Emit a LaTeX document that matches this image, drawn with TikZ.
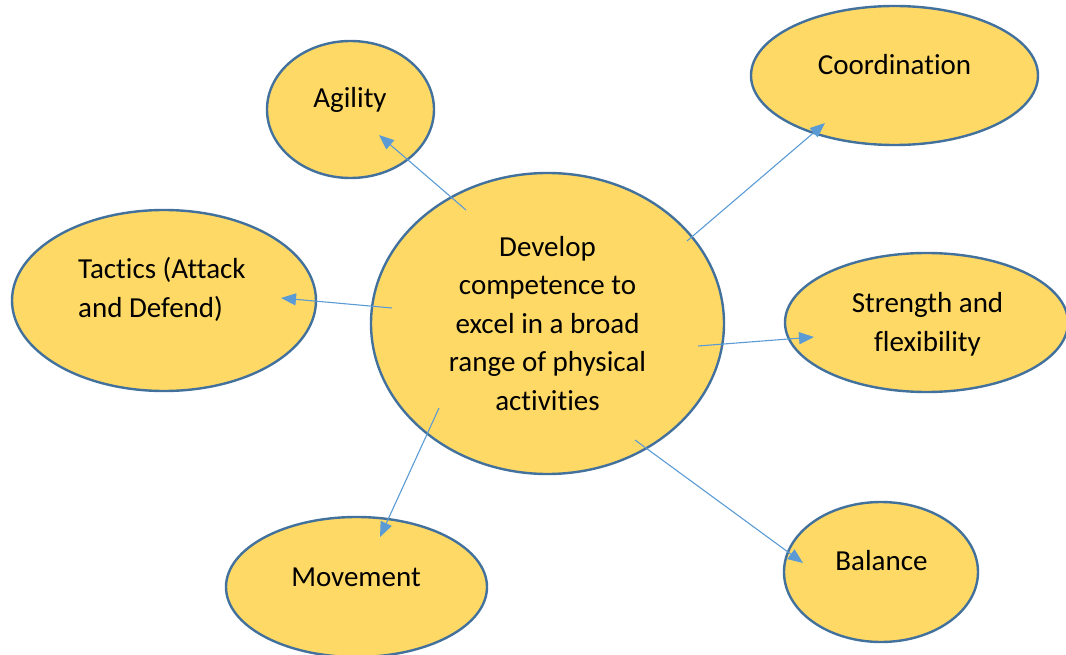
\documentclass[tikz,border=0pt]{standalone}
\usepackage{fontspec}
\setmainfont{Carlito}[Ligatures=NoCommon]
\usetikzlibrary{shapes.geometric,arrows.meta}
\definecolor{bubblefill}{HTML}{FFD966}
\definecolor{bubbleedge}{HTML}{41719C}
\definecolor{linkblue}{HTML}{5B9BD5}
\tikzset{
  bubble/.style={ellipse, draw=bubbleedge, fill=bubblefill, line width=2.4pt, inner sep=0pt},
  caption/.style={font=\fontsize{29}{38.5}\selectfont, text=black, inner sep=0pt, anchor=base, align=center},
  link/.style={draw=linkblue, line width=1.1pt, -{Triangle[length=15pt,width=12pt]}}
}
\begin{document}
\begin{tikzpicture}[x=1pt,y=-1pt]
\useasboundingbox (0,0) rectangle (1066,655);
\begin{scope}
\clip (0,0) rectangle (1066,655);
% bubbles
\node[bubble, minimum width=353pt, minimum height=301pt] (hub) at (547.5,323.5) {};
\node[bubble, minimum width=167pt, minimum height=137pt] (agility) at (350.5,109.5) {};
\node[bubble, minimum width=287pt, minimum height=139pt] (coord) at (894.5,75.5) {};
\node[bubble, minimum width=304pt, minimum height=181pt] (tactics) at (164,300.5) {};
\node[bubble, minimum width=283pt, minimum height=139pt] (strength) at (926.5,322.5) {};
\node[bubble, minimum width=261pt, minimum height=140pt] (movement) at (356.5,587) {};
\node[bubble, minimum width=194pt, minimum height=140pt] (balance) at (881,572) {};

% captions (multi-line captions sit on the baseline of their last line)
\node[caption] (hubtext) at (547.5,410) {Develop\\competence to\\excel in a broad\\range of physical\\activities};
\node[caption] (agilitytext) at (350,108) {Agility};
\node[caption] (coordtext) at (894.5,75) {Coordination};
\node[caption, align=left, anchor=base west] (tacticstext) at (78,317) {Tactics (Attack\\and Defend)};
\node[caption] (strengthtext) at (927.5,351) {Strength and\\flexibility};
\node[caption] (movementtext) at (356,586) {Movement};
\node[caption] (balancetext) at (881.5,570) {Balance};

% link end points
\coordinate (hubA) at (466,210);
\coordinate (hubC) at (687,241);
\coordinate (hubT) at (392,308);
\coordinate (hubS) at (698,346);
\coordinate (hubB) at (635,440);
\coordinate (hubM) at (439,408);
\coordinate (endA) at (379,135);
\coordinate (endC) at (825,123);
\coordinate (endT) at (281,298);
\coordinate (endS) at (814,337);
\coordinate (endB) at (803,563);
\coordinate (endM) at (380,537);

% links
\draw[link] (hubA) -- (endA);
\draw[link] (hubC) -- (endC);
\draw[link] (hubT) -- (endT);
\draw[link] (hubS) -- (endS);
\draw[link] (hubB) -- (endB);
\draw[link] (hubM) -- (endM);
\end{scope}
\end{tikzpicture}
\end{document}
